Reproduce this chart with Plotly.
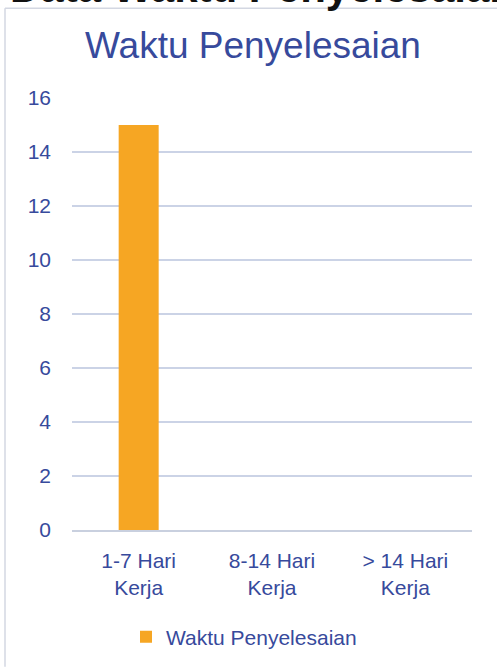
import plotly.graph_objects as go

categories = ["1-7 Hari<br>Kerja", "8-14 Hari<br>Kerja", "> 14 Hari<br>Kerja"]
values = [15, 0, 0]
series_name = "Waktu Penyelesaian"
y_ticks = [0, 2, 4, 6, 8, 10, 12, 14, 16]

W, H = 497, 668
L, R, T, B = 72, 25, 98, 137
pw = W - L - R
ph = H - T - B

blue = "#374A9C"
font = "Liberation Sans, Arial, sans-serif"

fig = go.Figure()
fig.add_trace(go.Bar(
    x=categories, y=values, name=series_name,
    marker=dict(color="#F6A623", line=dict(width=0)),
    width=0.3,
))

fig.update_layout(
    width=W, height=H,
    margin=dict(l=L, r=R, t=T, b=B, pad=0),
    paper_bgcolor="white", plot_bgcolor="white",
    font=dict(family=font, color=blue, size=21),
    showlegend=True,
    legend=dict(
        orientation="h", x=(126 - L) / pw, xanchor="left",
        y=(T + ph - 637) / ph, yanchor="middle",
        font=dict(size=21, color=blue, family=font),
        bgcolor="rgba(0,0,0,0)",
    ),
    xaxis=dict(
        showgrid=False, zeroline=False, showline=True,
        linecolor="#C9D0DF", linewidth=1.5,
        tickfont=dict(size=21, color=blue), ticks="",
        ticklabelstandoff=11,
    ),
    yaxis=dict(
        range=[0, 16], tickvals=y_ticks, showgrid=True,
        gridcolor="#CBD3E6", gridwidth=1.5, zeroline=False,
        showline=False, ticks="",
        tickfont=dict(size=21, color=blue),
        ticklabelstandoff=20,
    ),
    annotations=[
        dict(text="Waktu Penyelesaian", xref="paper", yref="paper",
             x=(253 - L) / pw, y=1 + (T - 45) / ph,
             xanchor="center", yanchor="middle", showarrow=False,
             font=dict(size=37, color=blue, family=font)),
        dict(text="<b>Data Waktu Penyelesaian</b>", xref="paper", yref="paper",
             x=(8 - L) / pw, y=1 + (T + 13) / ph,
             xanchor="left", yanchor="middle", showarrow=False,
             font=dict(size=42, color="#111111", family=font)),
    ],
    shapes=[
        dict(type="line", xref="paper", yref="paper",
             x0=(5 - L) / pw, x1=(5 - L) / pw,
             y0=1 + (T - 8) / ph, y1=1 - (H - T) / ph,
             line=dict(color="#D3D7E2", width=1.5)),
        dict(type="line", xref="paper", yref="paper",
             x0=(5 - L) / pw, x1=1 + (R + 5) / pw,
             y0=1 + (T - 8) / ph, y1=1 + (T - 8) / ph,
             line=dict(color="#D3D7E2", width=1.5)),
    ],
)

fig.write_html(
    "out.html",
    config={"displayModeBar": False},
    post_script="document.body.style.margin='0';document.body.style.overflow='hidden';",
)
